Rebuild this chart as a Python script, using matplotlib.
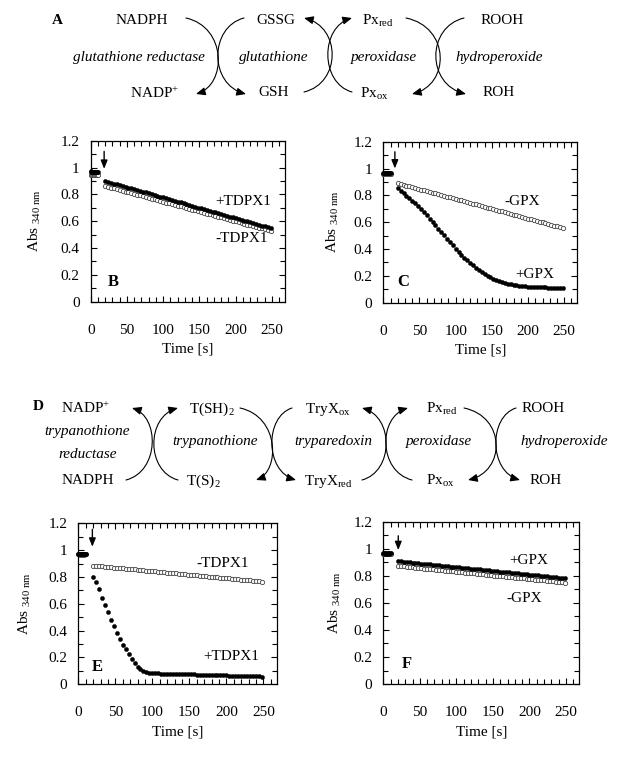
import matplotlib
matplotlib.use('Agg')
import matplotlib.pyplot as plt
from matplotlib.patches import FancyArrowPatch
from matplotlib.path import Path
from matplotlib.ticker import MultipleLocator, FuncFormatter

plt.rcParams['font.family'] = ['Liberation Serif', 'DejaVu Serif']
plt.rcParams['mathtext.fontset'] = 'custom'
plt.rcParams['mathtext.rm'] = 'Liberation Serif'
plt.rcParams['mathtext.it'] = 'Liberation Serif:italic'
plt.rcParams['mathtext.bf'] = 'Liberation Serif:bold'

# ---------------- data ----------------
t_base = [0, 1, 2, 3, 4, 5, 6, 7, 8, 9, 10]
t = [20, 24, 28, 32, 36, 40, 44, 48, 52, 56, 60, 64, 68, 72, 76, 80, 84, 88, 92, 96,
     100, 104, 108, 112, 116, 120, 124, 128, 132, 136, 140, 144, 148, 152, 156, 160,
     164, 168, 172, 176, 180, 184, 188, 192, 196, 200, 204, 208, 212, 216, 220, 224,
     228, 232, 236, 240, 244, 248]

# Panel B (+TDPX1 filled, -TDPX1 open)
b_base_plus = [0.971, 0.970, 0.970, 0.969, 0.970, 0.970, 0.969, 0.970, 0.970, 0.969, 0.970]
b_base_minus = [0.945, 0.944, 0.945, 0.945, 0.944, 0.945, 0.944, 0.945, 0.945, 0.944, 0.945]
b_plus = [0.900, 0.894, 0.888, 0.881, 0.875, 0.869, 0.863, 0.857, 0.851, 0.844,
          0.838, 0.832, 0.826, 0.820, 0.814, 0.807, 0.801, 0.795, 0.789, 0.783,
          0.777, 0.770, 0.764, 0.758, 0.752, 0.746, 0.740, 0.733, 0.727, 0.721,
          0.715, 0.709, 0.702, 0.696, 0.690, 0.684, 0.678, 0.672, 0.665, 0.659,
          0.653, 0.647, 0.641, 0.635, 0.628, 0.622, 0.616, 0.610, 0.604, 0.598,
          0.591, 0.585, 0.579, 0.573, 0.567, 0.561, 0.554, 0.548]
b_minus = [0.862, 0.856, 0.850, 0.844, 0.839, 0.833, 0.827, 0.821, 0.815, 0.809,
           0.803, 0.798, 0.792, 0.786, 0.780, 0.774, 0.768, 0.762, 0.757, 0.751,
           0.745, 0.739, 0.733, 0.727, 0.721, 0.716, 0.710, 0.704, 0.698, 0.692,
           0.686, 0.680, 0.674, 0.669, 0.663, 0.657, 0.651, 0.645, 0.639, 0.633,
           0.628, 0.622, 0.616, 0.610, 0.604, 0.598, 0.592, 0.587, 0.581, 0.575,
           0.569, 0.563, 0.557, 0.551, 0.546, 0.540, 0.534, 0.528]

# Panel C (+GPX filled, -GPX open)
c_base_plus = [0.965, 0.965, 0.964, 0.965, 0.965, 0.964, 0.965, 0.965, 0.964, 0.965, 0.965]
c_base_minus = [0.963, 0.963, 0.962, 0.963, 0.963, 0.962, 0.963, 0.963, 0.962, 0.963, 0.963]
c_plus = [0.852, 0.834, 0.817, 0.799, 0.780, 0.760, 0.740, 0.719, 0.697, 0.674,
          0.651, 0.627, 0.602, 0.578, 0.553, 0.528, 0.502, 0.477, 0.452, 0.427,
          0.403, 0.380, 0.357, 0.336, 0.315, 0.296, 0.278, 0.260, 0.244, 0.229,
          0.215, 0.202, 0.190, 0.180, 0.170, 0.161, 0.154, 0.147, 0.141, 0.136,
          0.132, 0.129, 0.126, 0.123, 0.121, 0.119, 0.118, 0.116, 0.115, 0.115,
          0.114, 0.114, 0.113, 0.113, 0.113, 0.112, 0.112, 0.112]
c_minus = [0.890, 0.884, 0.878, 0.872, 0.867, 0.861, 0.855, 0.849, 0.843, 0.837,
           0.832, 0.826, 0.820, 0.814, 0.808, 0.802, 0.797, 0.791, 0.785, 0.779,
           0.773, 0.767, 0.762, 0.756, 0.750, 0.744, 0.738, 0.732, 0.726, 0.721,
           0.715, 0.709, 0.703, 0.697, 0.691, 0.686, 0.680, 0.674, 0.668, 0.662,
           0.656, 0.651, 0.645, 0.639, 0.633, 0.627, 0.621, 0.616, 0.610, 0.604,
           0.598, 0.592, 0.586, 0.580, 0.575, 0.569, 0.563, 0.557]

# Panel E (+TDPX1 filled, -TDPX1 open)
e_base_plus = [0.970, 0.970, 0.969, 0.970, 0.970, 0.969, 0.970, 0.970, 0.969, 0.970, 0.970]
e_base_minus = [0.968, 0.968, 0.967, 0.968, 0.968, 0.967, 0.968, 0.968, 0.967, 0.968, 0.968]
e_plus = [0.800, 0.762, 0.708, 0.645, 0.588, 0.536, 0.480, 0.432, 0.380, 0.334,
          0.296, 0.260, 0.225, 0.189, 0.159, 0.131, 0.112, 0.098, 0.090, 0.086,
          0.084, 0.082, 0.081, 0.080, 0.080, 0.079, 0.078, 0.077, 0.077, 0.076,
          0.076, 0.075, 0.074, 0.074, 0.073, 0.072, 0.072, 0.071, 0.070, 0.070,
          0.069, 0.068, 0.068, 0.067, 0.066, 0.066, 0.065, 0.064, 0.064, 0.063,
          0.062, 0.062, 0.061, 0.060, 0.060, 0.059, 0.058, 0.057]
e_minus = [0.885, 0.883, 0.881, 0.879, 0.877, 0.875, 0.872, 0.870, 0.868, 0.866,
           0.864, 0.862, 0.860, 0.858, 0.856, 0.854, 0.852, 0.849, 0.847, 0.845,
           0.843, 0.841, 0.839, 0.837, 0.835, 0.833, 0.831, 0.829, 0.826, 0.824,
           0.822, 0.820, 0.818, 0.816, 0.814, 0.812, 0.810, 0.808, 0.806, 0.803,
           0.801, 0.799, 0.797, 0.795, 0.793, 0.791, 0.789, 0.787, 0.785, 0.783,
           0.780, 0.778, 0.776, 0.774, 0.772, 0.770, 0.768, 0.766]

# Panel F (+GPX filled, -GPX open)
f_base_plus = [0.966, 0.966, 0.965, 0.966, 0.966, 0.965, 0.966, 0.966, 0.965, 0.966, 0.966]
f_base_minus = [0.964, 0.964, 0.963, 0.964, 0.964, 0.963, 0.964, 0.964, 0.963, 0.964, 0.964]
f_plus = [0.908, 0.906, 0.904, 0.901, 0.899, 0.897, 0.895, 0.893, 0.890, 0.888,
          0.886, 0.884, 0.882, 0.880, 0.877, 0.875, 0.873, 0.871, 0.869, 0.866,
          0.864, 0.862, 0.860, 0.858, 0.855, 0.853, 0.851, 0.849, 0.847, 0.844,
          0.842, 0.840, 0.838, 0.836, 0.833, 0.831, 0.829, 0.827, 0.825, 0.823,
          0.820, 0.818, 0.816, 0.814, 0.812, 0.809, 0.807, 0.805, 0.803, 0.801,
          0.798, 0.796, 0.794, 0.792, 0.790, 0.787, 0.785, 0.783]
f_minus = [0.874, 0.872, 0.870, 0.867, 0.865, 0.863, 0.861, 0.859, 0.857, 0.854,
           0.852, 0.850, 0.848, 0.846, 0.844, 0.841, 0.839, 0.837, 0.835, 0.833,
           0.831, 0.828, 0.826, 0.824, 0.822, 0.820, 0.818, 0.815, 0.813, 0.811,
           0.809, 0.807, 0.805, 0.802, 0.800, 0.798, 0.796, 0.794, 0.792, 0.789,
           0.787, 0.785, 0.783, 0.781, 0.779, 0.776, 0.774, 0.772, 0.770, 0.768,
           0.766, 0.763, 0.761, 0.759, 0.757, 0.755, 0.752, 0.750]

x_ticks = [0, 50, 100, 150, 200, 250]
y_ticks = [0, 0.2, 0.4, 0.6, 0.8, 1.0, 1.2]

FS = 11

fig = plt.figure(figsize=(6.18, 7.71), dpi=100)

# ---------------- schemes (pixel-coordinate overlay) ----------------
bg = fig.add_axes([0, 0, 1, 1])
bg.set_xlim(0, 618)
bg.set_ylim(771, 0)
bg.axis('off')


def arc(x0, y0, x3, y3, bulge):
    c = (8 * bulge - x0 - x3) / 6.0
    dy = (y3 - y0) * 0.12
    path = Path([(x0, y0), (c, y0 + dy), (c, y3 - dy), (x3, y3)],
                [Path.MOVETO, Path.CURVE4, Path.CURVE4, Path.CURVE4])
    p = FancyArrowPatch(path=path, arrowstyle='-|>,head_length=0.7,head_width=0.3',
                        mutation_scale=8, lw=0.8, color='k')
    bg.add_patch(p)


def txt(x, y, s, style='normal', weight='normal'):
    bg.text(x, y, s, ha='center', va='center', fontsize=FS, style=style,
            fontweight=weight)

# Scheme A
txt(57, 20, 'A', weight='bold')
txt(142, 20, 'NADPH')
txt(276, 20, 'GSSG')
txt(378, 21, r'Px$_{\mathrm{red}}$')
txt(502, 20, 'ROOH')
txt(139, 58, 'glutathione reductase', style='italic')
txt(274, 58, 'glutathione', style='italic')
txt(384, 58, 'peroxidase', style='italic')
txt(499, 58, 'hydroperoxide', style='italic')
txt(155, 93, r'NADP$^{+}$')
txt(274, 93, 'GSH')
txt(374, 94, r'Px$_{\mathrm{ox}}$')
txt(499, 93, 'ROH')
arc(186, 18, 196, 94, 218)
arc(244, 18, 246, 94, 218)
arc(304, 92, 304, 18, 332)
arc(352, 92, 352, 18, 328)
arc(406, 18, 412, 94, 440)
arc(464, 18, 466, 94, 436)

# Scheme D
txt(38, 406, 'D', weight='bold')
txt(86, 408, r'NADP$^{+}$')
txt(212, 409, r'T(SH)$_{2}$')
txt(328, 409, r'TryX$_{\mathrm{ox}}$')
txt(442, 409, r'Px$_{\mathrm{red}}$')
txt(543, 408, 'ROOH')
txt(87, 432, 'trypanothione', style='italic')
txt(88, 454, 'reductase', style='italic')
txt(215, 442, 'trypanothione', style='italic')
txt(333, 442, 'tryparedoxin', style='italic')
txt(439, 442, 'peroxidase', style='italic')
txt(564, 442, 'hydroperoxide', style='italic')
txt(88, 480, 'NADPH')
txt(203, 481, r'T(S)$_{2}$')
txt(328, 481, r'TryX$_{\mathrm{red}}$')
txt(440, 481, r'Px$_{\mathrm{ox}}$')
txt(546, 480, 'ROH')
arc(126, 480, 132, 408, 152)
arc(178, 480, 178, 408, 154)
arc(240, 408, 256, 480, 272)
arc(292, 408, 296, 480, 272)
arc(362, 480, 362, 408, 386)
arc(412, 480, 408, 408, 386)
arc(464, 408, 468, 480, 496)
arc(516, 408, 520, 480, 496)

# ---------------- panels ----------------
panels = [
    dict(rect=[0.1468, 0.6087, 0.3144, 0.2088], tb=t_base, bp=b_base_plus, bm=b_base_minus,
         p=b_plus, m=b_minus, arrow=(18.5, 1.12, 0.99), ylx=-0.287, letter=('B', 23, 0.149),
         labels=[('+TDPX1', 172, 0.745), ('-TDPX1', 172, 0.472)]),
    dict(rect=[0.6202, 0.6074, 0.3139, 0.2088], tb=t_base, bp=c_base_plus, bm=c_base_minus,
         p=c_plus, m=c_minus, arrow=(16, 1.125, 1.0), ylx=-0.258, letter=('C', 19, 0.152),
         labels=[('-GPX', 167, 0.753), ('+GPX', 183, 0.212)]),
    dict(rect=[0.1267, 0.1125, 0.3210, 0.2088], tb=t_base, bp=e_base_plus, bm=e_base_minus,
         p=e_plus, m=e_minus, arrow=(19, 1.155, 1.025), ylx=-0.269, letter=('E', 18, 0.131),
         labels=[('-TDPX1', 160, 0.902), ('+TDPX1', 169, 0.206)]),
    dict(rect=[0.6202, 0.1128, 0.3170, 0.2105], tb=t_base, bp=f_base_plus, bm=f_base_minus,
         p=f_plus, m=f_minus, arrow=(20.5, 1.096, 0.99), ylx=-0.246, letter=('F', 25, 0.146),
         labels=[('+GPX', 172, 0.917), ('-GPX', 168, 0.633)]),
]

for P in panels:
    ax = fig.add_axes(P['rect'])
    ax.plot(P['tb'], P['bm'], 'o', ms=3.0, mfc='white', mec='#444444', mew=0.6,
            ls='none', zorder=3, clip_on=False)
    ax.plot(P['tb'], P['bp'], 'o', ms=3.0, mfc='black', mec='black', mew=0.3,
            ls='none', zorder=4, clip_on=False)
    ax.plot(t, P['m'], 'o', ms=3.1, mfc='white', mec='#444444', mew=0.6,
            ls='none', zorder=3)
    ax.plot(t, P['p'], 'o', ms=3.0, mfc='black', mec='black', mew=0.3,
            ls='none', zorder=4)
    ax.set_xlim(0, 268)
    ax.set_ylim(0, 1.2)
    ax.set_xticks(x_ticks)
    ax.set_yticks(y_ticks)
    ax.xaxis.set_minor_locator(MultipleLocator(10))
    ax.yaxis.set_minor_locator(MultipleLocator(0.1))
    ax.yaxis.set_major_formatter(FuncFormatter(lambda v, pos: '%g' % round(v, 1)))
    ax.tick_params(which='both', direction='in', top=True, right=True,
                   width=0.8, labelsize=FS)
    ax.tick_params(which='major', length=4)
    ax.tick_params(which='minor', length=3.5)
    ax.tick_params(axis='x', which='major', pad=16)
    ax.tick_params(axis='y', which='major', pad=8)
    for s in ax.spines.values():
        s.set_linewidth(0.9)
    ax.set_xlabel('Time [s]', fontsize=FS)
    ax.set_ylabel(r'Abs $_{\mathrm{340\ nm}}$', fontsize=FS)
    ax.xaxis.set_label_coords(0.5, -0.294)
    ax.xaxis.label.set_verticalalignment('center')
    ax.yaxis.set_label_coords(P['ylx'], 0.5)
    ax.yaxis.label.set_verticalalignment('center')
    ax.annotate('', xy=(P['arrow'][0], P['arrow'][2]), xytext=(P['arrow'][0], P['arrow'][1]),
                arrowprops=dict(arrowstyle='-|>,head_length=0.5,head_width=0.2',
                                mutation_scale=10, lw=1.0, color='k',
                                shrinkA=0, shrinkB=0))
    L, lx, ly = P['letter']
    ax.text(lx, ly, L, fontsize=FS + 1, fontweight='bold', ha='left', va='center')
    for s, lx, ly in P['labels']:
        ax.text(lx, ly, s, fontsize=FS, ha='left', va='center')

fig.savefig('out.png', dpi=100)
